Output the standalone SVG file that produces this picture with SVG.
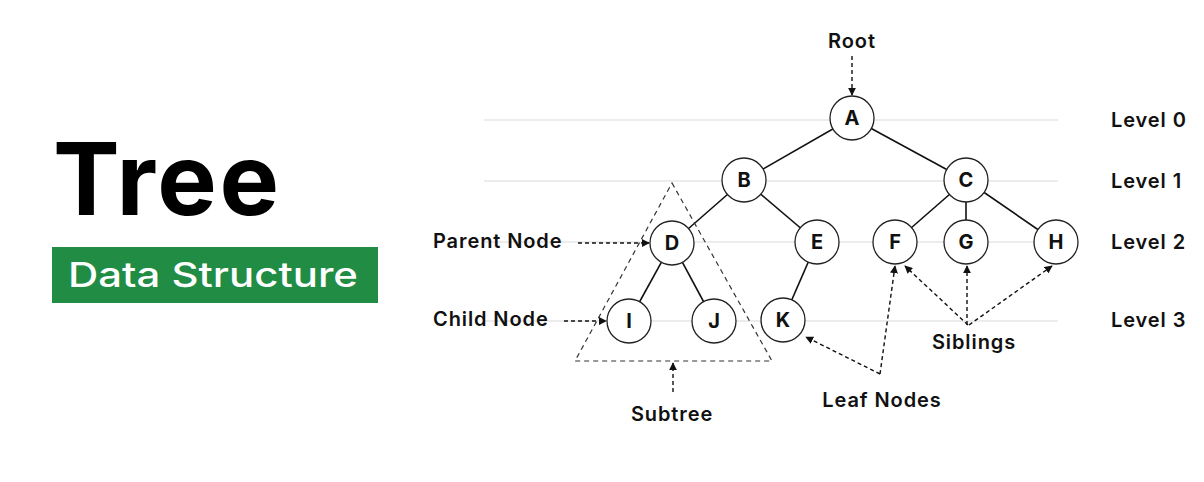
<svg xmlns="http://www.w3.org/2000/svg" width="1204" height="482" viewBox="0 0 1204 482">
<style>
.lvl{stroke:#e6e6e6;stroke-width:1.5}
.edge{stroke:#111;stroke-width:1.6;fill:none}
.node circle{fill:#fff;stroke:#222;stroke-width:1.3}
.node text{font-family:Inter,"Noto Sans",sans-serif;font-weight:700;font-size:20px;fill:#111;text-anchor:middle}
.lbl{font-family:Inter,"Noto Sans",sans-serif;font-weight:600;font-size:20px;fill:#111;letter-spacing:0.9px}
.dash{stroke:#111;stroke-width:1.4;stroke-dasharray:4 3;fill:none}
.tri{stroke:#333;stroke-width:1.2;stroke-dasharray:5 4;fill:none}
</style>
<defs>
<marker id="ah" viewBox="0 0 10 10" refX="9" refY="5" markerWidth="8" markerHeight="8" markerUnits="userSpaceOnUse" orient="auto">
<path d="M0,0 L10,5 L0,10 Z" fill="#111"/>
</marker>
</defs>
<rect width="1204" height="482" fill="#fff"/>
<g id="title">
<text x="53" y="215" font-family="Inter,'Noto Sans',sans-serif" font-weight="700" font-size="100" fill="#000" letter-spacing="2.5">Tree</text>
<rect x="52" y="247" width="326" height="56" fill="#218c44"/>
<text x="68" y="287" font-family="Inter,'Noto Sans',sans-serif" font-weight="500" font-size="34" fill="#fff" textLength="290" lengthAdjust="spacingAndGlyphs">Data Structure</text>
</g>
<g id="levels">
<line class="lvl" x1="484" y1="120" x2="1058" y2="120"/>
<line class="lvl" x1="484" y1="181" x2="1058" y2="181"/>
<line class="lvl" x1="484" y1="242" x2="1058" y2="242"/>
<line class="lvl" x1="484" y1="321" x2="1058" y2="321"/>
<text class="lbl" x="1111" y="127">Level 0</text>
<text class="lbl" x="1111" y="188">Level 1</text>
<text class="lbl" x="1111" y="249">Level 2</text>
<text class="lbl" x="1111" y="327">Level 3</text>
</g>
<g id="connectors">
<line class="edge" x1="852" y1="118" x2="744" y2="180"/>
<line class="edge" x1="852" y1="118" x2="966" y2="180"/>
<line class="edge" x1="744" y1="180" x2="672" y2="243"/>
<line class="edge" x1="744" y1="180" x2="817" y2="242"/>
<line class="edge" x1="966" y1="180" x2="895" y2="242"/>
<line class="edge" x1="966" y1="180" x2="966" y2="242"/>
<line class="edge" x1="966" y1="180" x2="1056" y2="242"/>
<line class="edge" x1="672" y1="243" x2="629" y2="321"/>
<line class="edge" x1="672" y1="243" x2="714" y2="321"/>
<line class="edge" x1="817" y1="242" x2="783" y2="320"/>
</g>
<g id="node-A" class="node"><circle cx="852" cy="118" r="22"/><text x="852" y="125">A</text></g>
<g id="node-B" class="node"><circle cx="744" cy="180" r="22"/><text x="744" y="187">B</text></g>
<g id="node-C" class="node"><circle cx="966" cy="180" r="22"/><text x="966" y="187">C</text></g>
<g id="node-D" class="node"><circle cx="672" cy="243" r="22"/><text x="672" y="250">D</text></g>
<g id="node-E" class="node"><circle cx="817" cy="242" r="22"/><text x="817" y="249">E</text></g>
<g id="node-F" class="node"><circle cx="895" cy="242" r="22"/><text x="895" y="249">F</text></g>
<g id="node-G" class="node"><circle cx="966" cy="242" r="22"/><text x="966" y="249">G</text></g>
<g id="node-H" class="node"><circle cx="1056" cy="242" r="22"/><text x="1056" y="249">H</text></g>
<g id="node-I" class="node"><circle cx="629" cy="321" r="22"/><text x="629" y="328">I</text></g>
<g id="node-J" class="node"><circle cx="714" cy="321" r="22"/><text x="714" y="328">J</text></g>
<g id="node-K" class="node"><circle cx="783" cy="320" r="22"/><text x="783" y="327">K</text></g>
<g id="subtree">
<path class="tri" d="M672,183 L772,361 L575,361 Z"/>
</g>
<g id="annotations">
<text class="lbl" x="852" y="48" text-anchor="middle">Root</text>
<line class="dash" x1="852" y1="56" x2="852" y2="95" marker-end="url(#ah)"/>
<text class="lbl" x="433" y="248">Parent Node</text>
<line class="dash" x1="578" y1="243" x2="649" y2="243" marker-end="url(#ah)"/>
<text class="lbl" x="433" y="326">Child Node</text>
<line class="dash" x1="564" y1="321" x2="606" y2="321" marker-end="url(#ah)"/>
<text class="lbl" x="672" y="421" text-anchor="middle">Subtree</text>
<line class="dash" x1="673" y1="392" x2="673" y2="363" marker-end="url(#ah)"/>
<text class="lbl" x="882" y="407" text-anchor="middle">Leaf Nodes</text>
<line class="dash" x1="880" y1="374" x2="806" y2="337" marker-end="url(#ah)"/>
<line class="dash" x1="880" y1="374" x2="895" y2="266" marker-end="url(#ah)"/>
<text class="lbl" x="974" y="349" text-anchor="middle">Siblings</text>
<line class="dash" x1="968" y1="325" x2="905" y2="266" marker-end="url(#ah)"/>
<line class="dash" x1="967" y1="325" x2="967" y2="266" marker-end="url(#ah)"/>
<line class="dash" x1="969" y1="325" x2="1052" y2="266" marker-end="url(#ah)"/>
</g>
</svg>
